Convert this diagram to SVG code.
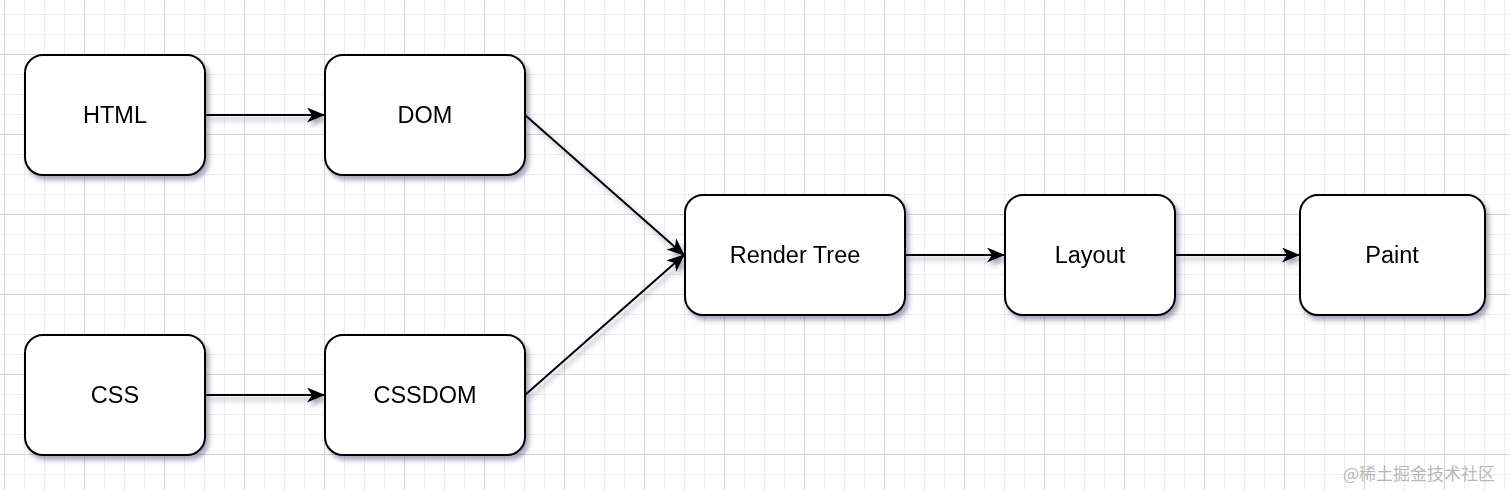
<svg xmlns="http://www.w3.org/2000/svg" width="1510" height="490" viewBox="0 0 1510 490">
<defs>
<pattern id="minor" x="4" y="14" width="20" height="20" patternUnits="userSpaceOnUse">
<path d="M0 0.5H20M0.5 0V20" fill="none" stroke="#ededed" stroke-width="1"/>
</pattern>
<pattern id="major" x="4" y="54" width="80" height="80" patternUnits="userSpaceOnUse">
<path d="M0 0.5H80M0.5 0V80" fill="none" stroke="#d4d4d4" stroke-width="1"/>
</pattern>
<filter id="sh" x="-10%" y="-10%" width="125%" height="130%">
<feDropShadow dx="3" dy="4" stdDeviation="2.5" flood-color="#30306a" flood-opacity="0.45"/>
</filter>
<marker id="ah" viewBox="0 0 18 15" refX="17" refY="7.5" markerWidth="18" markerHeight="15" markerUnits="userSpaceOnUse" orient="auto">
<path d="M0 0L18 7.5L0 15L5 7.5Z" fill="#000"/>
</marker>
<style>
.box{fill:#fff;stroke:#000;stroke-width:2}
.lbl{font-family:"Liberation Sans",Arial,sans-serif;font-size:23.5px;fill:#000;text-anchor:middle;dominant-baseline:central}
.edge{fill:none;stroke:#000;stroke-width:2;marker-end:url(#ah)}
.wm{font-family:"Noto Sans CJK SC","Liberation Sans",sans-serif;font-size:17px;fill:#b8b8b8}
</style>
</defs>
<rect width="1510" height="490" fill="#fff"/>
<rect width="1510" height="490" fill="url(#minor)"/>
<rect width="1510" height="490" fill="url(#major)"/>
<g id="connectors" filter="url(#sh)">
<path class="edge" d="M205 115H324"/>
<path class="edge" d="M205 395H324"/>
<path class="edge" d="M525 115L684 255"/>
<path class="edge" d="M525 395L684 255"/>
<path class="edge" d="M905 255H1004"/>
<path class="edge" d="M1175 255H1299"/>
</g>
<g id="html" filter="url(#sh)"><rect class="box" x="25" y="55" width="180" height="120" rx="18"/><text class="lbl" x="115" y="115">HTML</text></g>
<g id="dom" filter="url(#sh)"><rect class="box" x="325" y="55" width="200" height="120" rx="18"/><text class="lbl" x="425" y="115">DOM</text></g>
<g id="css" filter="url(#sh)"><rect class="box" x="25" y="335" width="180" height="120" rx="18"/><text class="lbl" x="115" y="395">CSS</text></g>
<g id="cssdom" filter="url(#sh)"><rect class="box" x="325" y="335" width="200" height="120" rx="18"/><text class="lbl" x="425" y="395">CSSDOM</text></g>
<g id="render-tree" filter="url(#sh)"><rect class="box" x="685" y="195" width="220" height="120" rx="18"/><text class="lbl" x="795" y="255">Render Tree</text></g>
<g id="layout" filter="url(#sh)"><rect class="box" x="1005" y="195" width="170" height="120" rx="18"/><text class="lbl" x="1090" y="255">Layout</text></g>
<g id="paint" filter="url(#sh)"><rect class="box" x="1300" y="195" width="185" height="120" rx="18"/><text class="lbl" x="1392" y="255">Paint</text></g>
<text class="wm" x="1343" y="480">@稀土掘金技术社区</text>
</svg>
